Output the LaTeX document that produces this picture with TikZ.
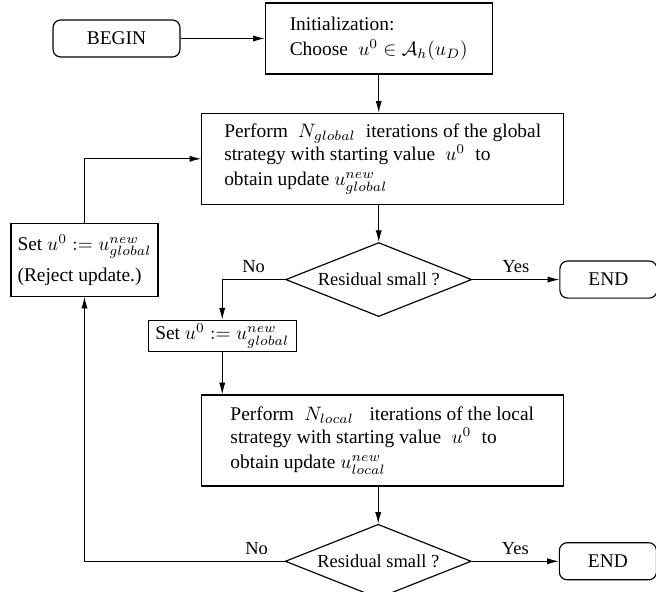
\documentclass[tikz,border=0pt]{standalone}
\usepackage{amsmath,amssymb}
\usepackage{fontspec}
\setmainfont{Liberation Serif}
\usetikzlibrary{arrows.meta,positioning,shapes.geometric}

\begin{document}
\begin{tikzpicture}[
  x=0.515pt, y=-0.515pt,
  line width=0.5pt,
  box/.style={rectangle, draw, line width=0.6pt, align=left, inner sep=2pt},
  term/.style={rectangle, draw, line width=0.6pt, rounded corners=4pt, minimum width=65.4pt, minimum height=19.1pt},
  decision/.style={diamond, draw, line width=0.6pt, aspect=2.5, inner sep=1pt, minimum width=95.8pt, minimum height=38.1pt, font=\fontsize{9.5}{11}\selectfont},
  lbl/.style={font=\fontsize{9.5}{11}\selectfont},
  arrow/.style={-{Latex[length=6pt,width=3.2pt]}}]

\useasboundingbox (0,0) rectangle (656,592);

\node[term] (begin) at (116.5,38.5) {BEGIN};
\node[box, minimum width=116.9pt, minimum height=36.6pt, right=43.3pt of begin] (init) {Initialization:\\[1pt] Choose $\;u^0 \in \mathcal{A}_h(u_D)$};
\node[box, minimum width=186.4pt, minimum height=46.9pt, below=19.6pt of init, xshift=2.06pt] (global) {Perform $\;N_{global}\;$ iterations of the global\\ strategy with starting value $\;u^0\;$ to\\[1pt] obtain update $u^{new}_{global}$};
\node[decision, below=19.1pt of global, xshift=-2.06pt] (dec1) {Residual small ?};
\node[term, minimum width=50pt, right=44.8pt of dec1] (end1) {END};
\node[box, minimum width=76.2pt, minimum height=13.9pt, below=20.6pt of dec1.west, xshift=-32.4pt] (accept) {Set $u^0 := u^{new}_{global}$};
\node[box, minimum width=186.4pt, minimum height=46.9pt, below=21.6pt of accept, xshift=82.4pt] (local) {Perform $\;N_{local}\;\;$ iterations of the local\\ strategy with starting value $\;u^0\;$ to\\[1pt] obtain update $u^{new}_{local}$};
\node[decision, below=19.1pt of local, xshift=-2.06pt] (dec2) {Residual small ?};
\node[term, minimum width=50pt, right=44.8pt of dec2] (end2) {END};
\node[box, minimum width=75.7pt, minimum height=37.6pt, below=85pt of begin, xshift=-16.5pt] (reject) {Set $u^0 := u^{new}_{global}$\\[4pt] (Reject update.)};

\draw[arrow] (begin) -- (init);
\draw[arrow] (init.south) -- (init.south |- global.north);
\draw[arrow] (dec1.north |- global.south) -- (dec1.north);
\draw[arrow] (dec1.east) -- node[lbl, above] {Yes} (end1.west);
\draw[arrow] (dec1.west) -| node[lbl, above, pos=0.25] {No} (accept.north);
\draw[arrow] (accept.south) -- (accept.south |- local.north);
\draw[arrow] (dec2.north |- local.south) -- (dec2.north);
\draw[arrow] (dec2.east) -- node[lbl, above] {Yes} (end2.west);
\draw[arrow] (dec2.west) -| node[lbl, above, pos=0.07] {No} (reject.south);
\draw[arrow] (reject.north) |- (global.west);

\end{tikzpicture}
\end{document}
